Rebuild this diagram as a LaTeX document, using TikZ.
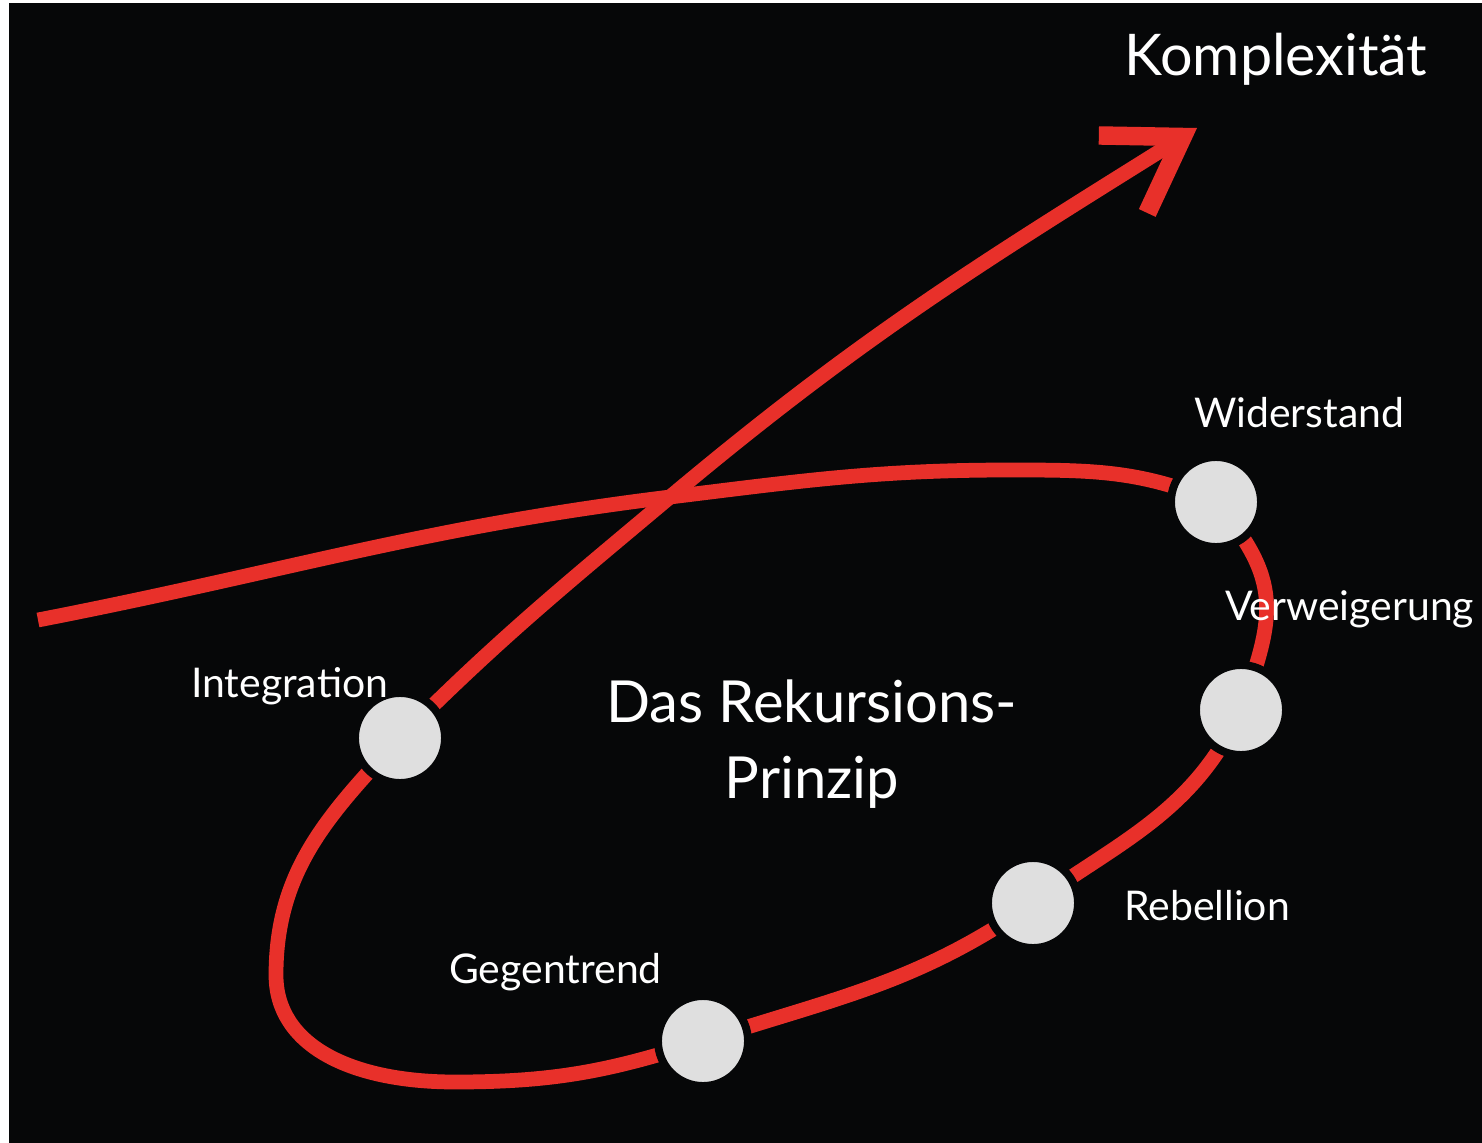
\documentclass[tikz,border=0pt]{standalone}
\usepackage{fontspec}
\setmainfont{Lato}
\usetikzlibrary{arrows.meta}
\definecolor{board}{HTML}{060708}
\definecolor{chalk}{HTML}{E8302A}
\definecolor{dot}{HTML}{DFDFDF}
\tikzset{stage/.style={circle,fill=dot,draw=board,line width=4.5pt,minimum size=1.8cm,inner sep=0pt},
  lbl/.style={anchor=base west,text=white,font=\fontsize{23.3}{28}\selectfont},
  trail/.style={draw=chalk,line width=8.4pt}}

\begin{document}
\begin{tikzpicture}[x=.02cm,y=.02cm]
\fill[white] (0,0) rectangle (1482,-1143);
\fill[board] (9,-3) rectangle (1482,-1143);
\useasboundingbox (0,0) rectangle (1482,-1143);
% Kurve
\coordinate (start) at (38,-620);
\coordinate (cross) at (670,-497);
\coordinate (top) at (1010,-470);
\coordinate (bot) at (455,-1082);
\coordinate (lft) at (276,-975);
\coordinate (tip) at (1197,-128);
\coordinate (wid) at (1216,-502);
\coordinate (ver) at (1241,-710);
\coordinate (reb) at (1033,-903);
\coordinate (geg) at (703,-1041);
\coordinate (int) at (400,-738);
\draw[trail] (start) to[out=11,in=187] (cross) to[out=7,in=180] (top)
  to[out=0,in=157] (wid) to[out=-50,in=70,looseness=1.25] (ver)
  to[out=-115,in=35] (reb) to[out=-145,in=18] (geg)
  to[out=-162,in=0] (bot) to[out=180,in=-90,out distance=2.1cm,in distance=1.4cm] (lft)
  to[out=90,in=-133] (int);
\draw[trail,-{Straight Barb[length=40pt,width=52pt,line width=10.5pt]}] (int) to[out=45,in=-140] (cross)
  to[out=40,in=-148] (tip);
% Stationen
\node[stage] (wid-dot) at (wid) {};
\node[stage] (ver-dot) at (ver) {};
\node[stage] (reb-dot) at (reb) {};
\node[stage] (geg-dot) at (geg) {};
\node[stage] (int-dot) at (int) {};
\node[lbl] (wid-l) at (1188,-427) {Widerstand};
\node[lbl] (ver-l) at (1219,-620) {Verweigerung};
\node[lbl] (int-l) at (185,-697) {Integration};
\node[lbl] (reb-l) at (1118,-920) {Rebellion};
\node[lbl] (geg-l) at (443,-983) {Gegentrend};
\node[lbl,font=\fontsize{32.7}{40}\selectfont] (komp) at (1118,-75) {Komplexität};
\node[text=white,align=center,anchor=base,font=\fontsize{33}{43}\selectfont] (title) at (812,-798) {Das Rekursions-\\Prinzip};
\end{tikzpicture}
\end{document}
